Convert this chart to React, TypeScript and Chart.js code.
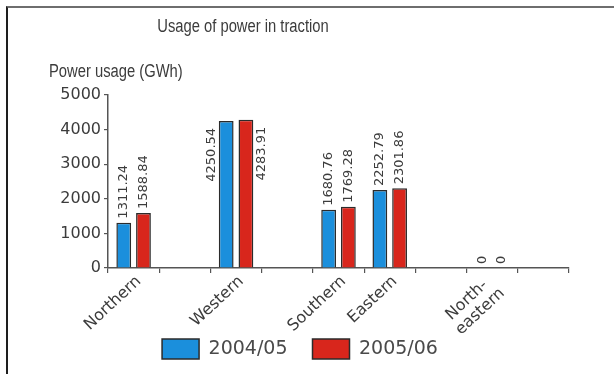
import React, { useEffect, useRef } from 'react';
import { Chart, registerables } from 'chart.js';

Chart.register(...registerables);

// Regions along the x axis; empty strings leave spacer slots between groups.
const categories: (string | string[])[] = [
  'Northern', '', 'Western', '', 'Southern', 'Eastern', '', ['North-', 'eastern'], '',
];
const usage2004: (number | null)[] = [1311.24, null, 4250.54, null, 1680.76, 2252.79, null, 0, null];
const usage2005: (number | null)[] = [1588.84, null, 4283.91, null, 1769.28, 2301.86, null, 0, null];
const seriesNames = ['2004/05', '2005/06'];
const yMin = 0;
const yMax = 5000;
const yStep = 1000;
const chartTitle = 'Usage of power in traction';
const axisTitle = 'Power usage (GWh)';

const BLUE = '#1b8fdc';
const RED = '#d8261c';
const EDGE = '#2b2b2b';
const TEXT = '#3c3c3c';
const AXIS = '#555555';
const NUM_FONT = '"DejaVu Sans", "Liberation Sans", Arial, sans-serif';
const HEAD_FONT = '"Liberation Sans", Arial, sans-serif';

// Condensed headings: regular sans squeezed horizontally.
const headings = {
  id: 'headings',
  afterDraw(chart: Chart) {
    const { ctx } = chart;
    const squeeze = 0.82;
    ctx.save();
    ctx.fillStyle = TEXT;
    ctx.font = `18px ${HEAD_FONT}`;
    ctx.textBaseline = 'middle';
    ctx.scale(squeeze, 1);
    ctx.textAlign = 'center';
    ctx.fillText(chartTitle, 243 / squeeze, 27);
    ctx.textAlign = 'left';
    ctx.fillText(axisTitle, 49 / squeeze, 72);
    ctx.restore();
  },
};

// Slanted region names under the x axis, anchored at each category centre.
const categoryLabels = {
  id: 'categoryLabels',
  afterDraw(chart: Chart) {
    const { ctx } = chart;
    const xs: any = chart.scales.x;
    const angle = (-43 * Math.PI) / 180;
    ctx.save();
    ctx.font = `16px ${NUM_FONT}`;
    ctx.fillStyle = TEXT;
    ctx.textAlign = 'right';
    ctx.textBaseline = 'alphabetic';
    categories.forEach((label, i) => {
      const lines = Array.isArray(label) ? label : [label];
      if (!lines[0]) return;
      const cx = xs.getPixelForTick(i);
      lines.forEach((line, k) => {
        let ax = cx + 8;
        let ay = xs.top + 14;
        if (lines.length > 1) {
          ax = cx - 4 + 17 * k;
          ay = xs.top + 18 + 8 * k;
        }
        ctx.save();
        ctx.translate(ax, ay);
        ctx.rotate(angle);
        ctx.fillText(line, 0, 0);
        ctx.restore();
      });
    });
    ctx.restore();
  },
};

// Rotated value labels above each bar; tall bars get theirs beside the bar.
const valueLabels = {
  id: 'valueLabels',
  afterDatasetsDraw(chart: Chart) {
    const { ctx, chartArea } = chart;
    ctx.save();
    ctx.font = `13px ${NUM_FONT}`;
    ctx.fillStyle = TEXT;
    chart.data.datasets.forEach((ds, di) => {
      const meta = chart.getDatasetMeta(di);
      meta.data.forEach((el: any, i: number) => {
        const v = ds.data[i] as number | null;
        if (v == null) return;
        const text = v === 0 ? '0' : v.toFixed(2);
        const w = ctx.measureText(text).width;
        const { x, y, width } = el.getProps(['x', 'y', 'width'], true);
        ctx.save();
        if (y - 4 - w < chartArea.top - 12) {
          if (di === 0) {
            ctx.translate(x - width / 2 - 4, y + 7);
            ctx.rotate(-Math.PI / 2);
            ctx.textAlign = 'right';
            ctx.textBaseline = 'alphabetic';
          } else {
            ctx.translate(x + width / 2 + 2, y + 7);
            ctx.rotate(-Math.PI / 2);
            ctx.textAlign = 'right';
            ctx.textBaseline = 'top';
          }
          ctx.fillText(text, 0, 0);
        } else {
          ctx.translate(x, y - 4);
          ctx.rotate(-Math.PI / 2);
          ctx.textAlign = 'left';
          ctx.textBaseline = 'middle';
          ctx.fillText(text, 0, 0);
        }
        ctx.restore();
      });
    });
    ctx.restore();
  },
};

export default function App() {
  const canvasRef = useRef<HTMLCanvasElement | null>(null);

  useEffect(() => {
    const canvas = canvasRef.current;
    if (!canvas) return;
    const chart = new Chart(canvas, {
      type: 'bar',
      data: {
        labels: categories,
        datasets: [
          {
            label: seriesNames[0],
            data: usage2004,
            backgroundColor: BLUE,
            borderColor: EDGE,
            borderWidth: 1.5,
            categoryPercentage: 0.77,
            barPercentage: 0.75,
          },
          {
            label: seriesNames[1],
            data: usage2005,
            backgroundColor: RED,
            borderColor: EDGE,
            borderWidth: 1.5,
            categoryPercentage: 0.77,
            barPercentage: 0.75,
          },
        ],
      },
      options: {
        responsive: false,
        animation: false,
        layout: { padding: { top: 95, left: 0, right: 0, bottom: 5 } },
        plugins: {
          tooltip: { enabled: false },
          title: { display: false },
          legend: {
            position: 'bottom',
            labels: {
              boxWidth: 37,
              boxHeight: 20,
              padding: 25,
              color: '#4a4a4a',
              font: { family: NUM_FONT, size: 19 },
            },
          },
        },
        scales: {
          x: {
            type: 'category',
            offset: true,
            grid: { display: true, drawOnChartArea: false, offset: true, tickLength: 5, color: AXIS, lineWidth: 1.2 },
            border: { display: true, color: AXIS, width: 1.5 },
            ticks: { display: false, autoSkip: false },
            afterFit(scale: any) {
              scale.height = 46;
            },
          },
          y: {
            min: yMin,
            max: yMax,
            ticks: {
              stepSize: yStep,
              padding: 3,
              color: TEXT,
              font: { family: NUM_FONT, size: 16 },
              callback: (v: any) => String(v),
            },
            grid: { display: true, drawOnChartArea: false, tickLength: 4, color: AXIS, lineWidth: 1.2 },
            border: { display: true, color: AXIS, width: 1.5 },
            afterFit(scale: any) {
              scale.width = 108;
            },
          },
          yRight: {
            position: 'right',
            display: true,
            ticks: { display: false },
            grid: { display: false },
            border: { display: false },
            afterFit(scale: any) {
              scale.width = 31;
            },
          },
        },
      },
      plugins: [headings, categoryLabels, valueLabels],
    });
    return () => chart.destroy();
  }, []);

  return (
    <div style={{ position: 'absolute', left: 0, top: 0, width: 614, height: 374, overflow: 'hidden', background: '#fff' }}>
      <canvas ref={canvasRef} width={600} height={374} style={{ position: 'absolute', left: 0, top: 0 }} />
      <div
        style={{
          position: 'absolute',
          left: 6,
          top: 6,
          width: 606,
          height: 366,
          borderTop: '2px solid #6e6e6e',
          borderLeft: '2px solid #1e1e1e',
          pointerEvents: 'none',
        }}
      />
    </div>
  );
}
